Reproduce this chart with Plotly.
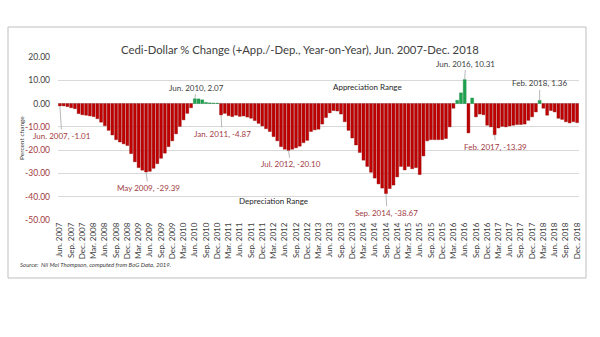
import plotly.graph_objects as go

MONTH_ABBR = ["Jan.", "Feb.", "Mar.", "Apr.", "May", "Jun.", "Jul.", "Aug.", "Sep.", "Oct.", "Nov.", "Dec."]
months = []
for yr in range(2007, 2019):
    for m in range(12):
        if yr == 2007 and m < 5:
            continue
        months.append(f"{MONTH_ABBR[m]} {yr}")

pct_change = [
    -1.01, -1.0, -1.3, -1.8, -2.2, -4.3, -4.8,                      # Jun-Dec 2007
    -5.0, -5.3, -5.6, -6.5, -8.0, -9.5, -11.5, -13.5, -15.5, -16.5, -17.3, -18.0,  # 2008
    -21.5, -25.0, -27.5, -28.6, -29.39, -29.1, -27.8, -25.8, -23.5, -21.3, -18.5, -16.0,  # 2009
    -13.0, -9.8, -7.0, -4.2, -1.8, 2.07, 2.0, 1.6, 0.5, 0.3, 0.2, 0.2,  # 2010
    -4.87, -4.2, -5.2, -5.6, -5.0, -5.5, -5.3, -5.8, -6.3, -7.3, -8.5, -9.6,  # 2011
    -10.8, -12.0, -14.2, -16.0, -18.5, -19.6, -20.10, -19.6, -19.0, -18.3, -16.8, -15.8,  # 2012
    -12.0, -11.3, -11.0, -8.8, -6.0, -4.0, -3.0, -3.2, -4.5, -7.8, -11.5, -14.8,  # 2013
    -17.8, -21.0, -24.3, -27.0, -29.5, -32.0, -34.5, -36.3, -38.67, -36.5, -35.0, -31.5,  # 2014
    -27.0, -28.5, -27.0, -28.0, -27.5, -30.5, -22.5, -16.0, -15.5, -15.5, -15.5, -15.5,  # 2015
    -15.0, -10.0, -2.0, 1.4, 4.6, 10.31, -12.6, 2.4, -5.7, -4.5, -4.8, -9.3,  # 2016
    -10.0, -13.39, -10.5, -9.8, -10.0, -9.6, -9.3, -9.0, -9.0, -8.8, -7.2, -5.7,  # 2017
    -3.6, 1.36, -2.0, -5.0, -3.0, -3.6, -6.3, -6.8, -7.8, -8.3, -7.8, -8.2,  # 2018
]

y_ticks = [-50, -40, -30, -20, -10, 0, 10, 20]

# annotated points: (month, value, label, x-offset px, y-offset px)
callouts = [
    ("Jun. 2007", -1.01, "Jun. 2007, -1.01", 2, 30),
    ("May 2009", -29.39, "May 2009, -29.39", 2, 16),
    ("Jan. 2011", -4.87, "Jan. 2011, -4.87", 1, 19),
    ("Jul. 2012", -20.10, "Jul. 2012, -20.10", 2, 14),
    ("Sep. 2014", -38.67, "Sep. 2014, -38.67", 1, 19),
    ("Feb. 2017", -13.39, "Feb. 2017, -13.39", 1, 12),
    ("Jun. 2010", 2.07, "Jun. 2010, 2.07", 2, -11),
    ("Jun. 2016", 10.31, "Jun. 2016, 10.31", 1, -16),
    ("Feb. 2018", 1.36, "Feb. 2018, 1.36", 0, -17),
]

RED = "#C00000"
GREEN = "#1FA250"
NEG_TXT = "#A23B3F"
DARK = "#404040"
FONT = "Lato"

colors = [GREEN if v > 0 else RED for v in pct_change]
line_colors = ["#178A42" if v > 0 else "#8E0A0A" for v in pct_change]

fig = go.Figure()
fig.add_trace(go.Bar(
    x=months, y=pct_change,
    marker=dict(color=colors, line=dict(color=line_colors, width=0.4)),
    showlegend=False,
))

def fmt_tick(v):
    s = f"{v:.2f}"
    if v < 0:
        return f'<span style="color:{NEG_TXT}">{s}</span>'
    return s

fig.update_layout(
    width=600, height=337,
    margin=dict(l=58, r=21, t=57, b=117),
    paper_bgcolor="white", plot_bgcolor="white",
    bargap=0.22,
    font=dict(family=FONT, color=DARK),
    xaxis=dict(
        type="category",
        tickvals=months[::3], ticktext=months[::3],
        tickangle=-90, tickfont=dict(size=8, color=DARK),
        showgrid=False, showline=False, ticks="",
        range=[-0.5, len(months) - 0.5],
    ),
    yaxis=dict(
        range=[-50, 20],
        tickvals=y_ticks, ticktext=[fmt_tick(v) for v in y_ticks],
        tickfont=dict(size=8.5, color=DARK),
        showgrid=True, gridcolor="#D9D9D9", gridwidth=1,
        zeroline=False, showline=False, ticks="",
        ticklabelstandoff=7,
    ),
)

for mon, val, label, ax, ay in callouts:
    fig.add_annotation(
        x=mon, y=val, text=label, showarrow=True, arrowhead=0,
        arrowcolor="#A6A6A6", arrowwidth=0.8, standoff=0, startstandoff=0,
        ax=ax, ay=ay, font=dict(size=8, color=NEG_TXT if val < 0 else DARK),
    )

fig.add_annotation(x="Apr. 2014", y=7.0, text="Appreciation Range", showarrow=False,
                   font=dict(size=8, color="#262626"))
fig.add_annotation(x="Mar. 2012", y=-42.0, text="Depreciation Range", showarrow=False,
                   font=dict(size=8, color="#262626"))

fig.add_annotation(xref="paper", yref="paper", x=0.4645, y=(220 - 41) / 163,
                   text="Cedi-Dollar % Change (+App./-Dep., Year-on-Year), Jun. 2007-Dec. 2018",
                   showarrow=False, font=dict(size=11.3, color=DARK))
fig.add_annotation(xref="paper", yref="paper", x=(16 - 58) / 521, y=0.5,
                   text="Percent change", textangle=-90, showarrow=False,
                   font=dict(size=6.5, color=DARK))
fig.add_annotation(xref="paper", yref="paper", x=(18 - 58) / 521, y=(220 - 270) / 163,
                   xanchor="left", text="<i>Source:  Nii Moi Thompson, computed from BoG Data, 2019.</i>",
                   showarrow=False, font=dict(size=6, color=DARK))

fig.add_shape(type="rect", xref="paper", yref="paper",
              x0=(8 - 58) / 521, x1=(586 - 58) / 521,
              y0=(220 - 278) / 163, y1=(220 - 27) / 163,
              line=dict(color="#BFBFBF", width=1), fillcolor="rgba(0,0,0,0)", layer="below")

fig.write_html("out.html")
